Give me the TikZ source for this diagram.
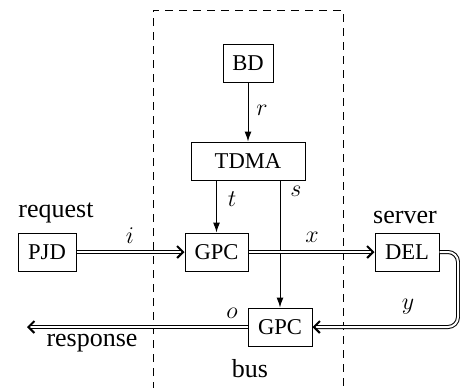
\documentclass[tikz,border=0pt]{standalone}
\usepackage{fontspec}
\setmainfont{Liberation Serif}
\usetikzlibrary{arrows.meta}
\begin{document}
\begin{tikzpicture}[x=0.5pt,y=-0.5pt,
  box/.style={draw,line width=0.5pt,minimum height=19pt,inner xsep=4pt,font=\fontsize{11.3}{13}\selectfont},
  lbl/.style={font=\fontsize{13}{15}\selectfont,inner sep=0pt},
  dbl/.style={double,double distance=1pt,line width=0.5pt,-{Straight Barb[length=3pt,width=6pt,line width=1pt]}},
  sgl/.style={line width=0.5pt,-{Latex[length=5pt,width=3.5pt]}}]
\useasboundingbox (0,0) rectangle (460,387);
\draw[line width=0.5pt,dash pattern=on 4pt off 3pt] (153,390) -- (153,10) -- (343,10) -- (343,390);
\node[box,minimum width=25pt] (BD) at (248,63) {BD};
\node[box,minimum width=57pt] (TDMA) at (248,161) {TDMA};
\node[box,minimum width=29pt] (PJD) at (47,252) {PJD};
\node[box,minimum width=31.5pt] (G1) at (216.5,252) {GPC};
\node[box,minimum width=32pt] (DEL) at (407,252) {DEL};
\node[box,minimum width=32pt] (G2) at (280,327) {GPC};
\coordinate (R) at (458,252);
\coordinate (E) at (27,327);
\draw[sgl] (BD) -- (TDMA);
\draw[sgl] (TDMA.south -| G1.north) -- (G1.north);
\draw[sgl] (TDMA.south -| G2.north) -- (G2.north);
\draw[dbl] (PJD) -- (G1);
\draw[dbl] (G1) -- (DEL);
\draw[dbl,rounded corners=5pt] (DEL.east) -- (R) |- (G2.east);
\draw[dbl] (G2) -- (E);
\node[lbl] at (56,213) {request};
\node[lbl] at (405,217) {server};
\node[lbl] at (92,343) {response};
\node[lbl] at (250,369) {bus};
\node[lbl] at (130,236) {$i$};
\node[lbl] at (312,237) {$x$};
\node[lbl] at (408,307) {$y$};
\node[lbl] at (232,313) {$o$};
\node[lbl] at (232,199) {$t$};
\node[lbl] at (296,191) {$s$};
\node[lbl] at (262,110) {$r$};
\end{tikzpicture}
\end{document}
